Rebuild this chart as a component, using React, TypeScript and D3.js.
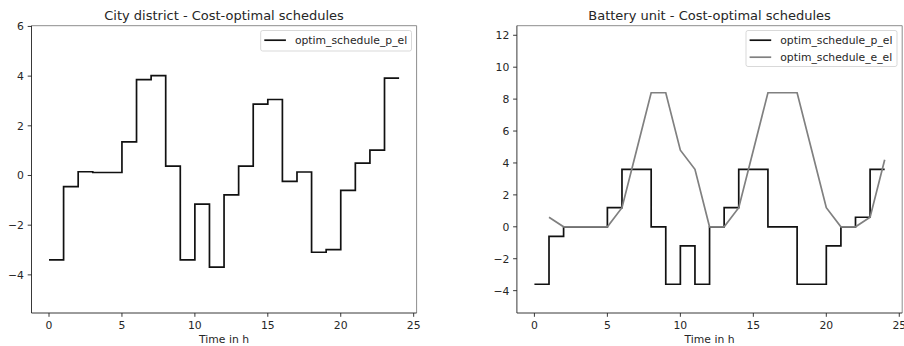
import React from "react";
import * as d3 from "d3";

// ---- data ----
const hours: number[] = d3.range(0, 25); // 0..24 (step edges)
const cityPel: number[] = [
  -3.4, -0.45, 0.15, 0.12, 0.12, 1.35, 3.86, 4.02, 0.38, -3.4, -1.15, -3.69,
  -0.78, 0.38, 2.87, 3.06, -0.24, 0.14, -3.09, -2.98, -0.6, 0.5, 1.02, 3.92,
];
const batPel: number[] = [
  -3.6, -0.6, 0, 0, 0, 1.2, 3.6, 3.6, 0, -3.6, -1.2, -3.6,
  0, 1.2, 3.6, 3.6, 0, 0, -3.6, -3.6, -1.2, 0, 0.6, 3.6,
];
const batEelHours: number[] = d3.range(1, 25);
const batEel: number[] = [
  0.6, 0, 0, 0, 0, 1.2, 4.8, 8.4, 8.4, 4.8, 3.6, 0,
  0, 1.2, 4.8, 8.4, 8.4, 8.4, 4.8, 1.2, 0, 0, 0.6, 4.2,
];
const xTicks: number[] = [0, 5, 10, 15, 20, 25];
const cityYTicks: number[] = [-4, -2, 0, 2, 4, 6];
const batYTicks: number[] = [-4, -2, 0, 2, 4, 6, 8, 10, 12];
const cityTitle = "City district - Cost-optimal schedules";
const batTitle = "Battery unit - Cost-optimal schedules";
const xLabel = "Time in h";
const labelPel = "optim_schedule_p_el";
const labelEel = "optim_schedule_e_el";

const FONT = "'DejaVu Sans', sans-serif";
const FS = 10.8;
const fmt = d3.format("d");

type Series = { xs: number[]; ys: number[]; color: string; step: boolean; label: string };

function Panel(props: {
  x0: number;
  x1: number;
  y0: number;
  y1: number;
  yDomain: [number, number];
  yTicks: number[];
  title: string;
  series: Series[];
  legend: { x0: number; x1: number; y0: number; y1: number };
}) {
  const { x0, x1, y0, y1, yDomain, yTicks, title, series, legend } = props;
  const x = d3.scaleLinear().domain([-1.2, 25.2]).range([x0, x1]);
  const y = d3.scaleLinear().domain(yDomain).range([y1, y0]);
  const tickLen = 3.8;
  const pad = 3.8;
  const paths = series.map((s) => {
    const pts: [number, number][] = s.xs.map((xv, i) => [xv, s.step ? s.ys[Math.min(i, s.ys.length - 1)] : s.ys[i]]);
    const gen = d3
      .line<[number, number]>()
      .x((d) => x(d[0]))
      .y((d) => y(d[1]))
      .curve(s.step ? d3.curveStepAfter : d3.curveLinear);
    return gen(pts) || "";
  });
  const cx = (x0 + x1) / 2;
  const rowH = 17;
  return (
    <g>
      {paths.map((d, i) => (
        <path key={i} d={d} fill="none" stroke={series[i].color} strokeWidth={1.7} strokeLinejoin="miter" />
      ))}
      {/* spines */}
      <line x1={x0} x2={x1} y1={y0} y2={y0} stroke="#808080" strokeWidth={0.9} />
      <line x1={x1} x2={x1} y1={y0} y2={y1} stroke="#808080" strokeWidth={0.9} />
      <line x1={x0} x2={x0} y1={y0} y2={y1} stroke="#222" strokeWidth={0.9} />
      <line x1={x0} x2={x1} y1={y1} y2={y1} stroke="#222" strokeWidth={0.9} />
      {/* x ticks */}
      {xTicks.map((t) => (
        <g key={"x" + t}>
          <line x1={x(t)} x2={x(t)} y1={y1} y2={y1 + tickLen} stroke="#222" strokeWidth={0.9} />
          <text x={x(t)} y={y1 + tickLen + pad + 8.3} textAnchor="middle" fontFamily={FONT} fontSize={FS} fill="#262626">
            {fmt(t)}
          </text>
        </g>
      ))}
      {/* y ticks */}
      {yTicks.map((t) => (
        <g key={"y" + t}>
          <line x1={x0 - tickLen} x2={x0} y1={y(t)} y2={y(t)} stroke="#222" strokeWidth={0.9} />
          <text x={x0 - tickLen - pad} y={y(t) + 3.9} textAnchor="end" fontFamily={FONT} fontSize={FS} fill="#262626">
            {fmt(t)}
          </text>
        </g>
      ))}
      <text x={cx} y={343.3} textAnchor="middle" fontFamily={FONT} fontSize={FS} fill="#262626">
        {xLabel}
      </text>
      <text x={cx} y={19.5} textAnchor="middle" fontFamily={FONT} fontSize={13} fill="#262626">
        {title}
      </text>
      {/* legend */}
      <rect
        x={legend.x0}
        y={legend.y0}
        width={legend.x1 - legend.x0}
        height={legend.y1 - legend.y0}
        rx={2}
        fill="white"
        fillOpacity={0.8}
        stroke="#d5d5d5"
        strokeWidth={0.9}
      />
      {series.map((s, i) => {
        const ly = legend.y0 + 9.7 + i * rowH;
        return (
          <g key={"l" + i}>
            <line x1={legend.x0 + 3.6} x2={legend.x0 + 25.2} y1={ly} y2={ly} stroke={s.color} strokeWidth={1.7} />
            <text x={legend.x0 + 34.2} y={ly + 3.9} fontFamily={FONT} fontSize={FS} fill="#262626">
              {s.label}
            </text>
          </g>
        );
      })}
    </g>
  );
}

export default function App() {
  const cMin = d3.min(cityPel) as number;
  const cMax = d3.max(cityPel) as number;
  const bMin = Math.min(d3.min(batPel) as number, d3.min(batEel) as number);
  const bMax = Math.max(d3.max(batPel) as number, d3.max(batEel) as number);
  return (
    <svg
      width={904}
      height={346}
      viewBox="0 0 904 346"
      style={{ position: "fixed", left: 0, top: 0, background: "white" }}
    >
      <rect width={904} height={346} fill="white" />
      <Panel
        x0={31.5}
        x1={416.6}
        y0={25.7}
        y1={313}
        yDomain={[1.5 * cMin, 1.5 * cMax]}
        yTicks={cityYTicks}
        title={cityTitle}
        series={[{ xs: hours, ys: cityPel, color: "#111", step: true, label: labelPel }]}
        legend={{ x0: 260.7, x1: 411.5, y0: 30.5, y1: 51 }}
      />
      <Panel
        x0={516.9}
        x1={902.2}
        y0={25.7}
        y1={313}
        yDomain={[1.5 * bMin, 1.5 * bMax]}
        yTicks={batYTicks}
        title={batTitle}
        series={[
          { xs: hours, ys: batPel, color: "#111", step: true, label: labelPel },
          { xs: batEelHours, ys: batEel, color: "#808080", step: false, label: labelEel },
        ]}
        legend={{ x0: 746, x1: 897, y0: 30.5, y1: 66.5 }}
      />
    </svg>
  );
}
